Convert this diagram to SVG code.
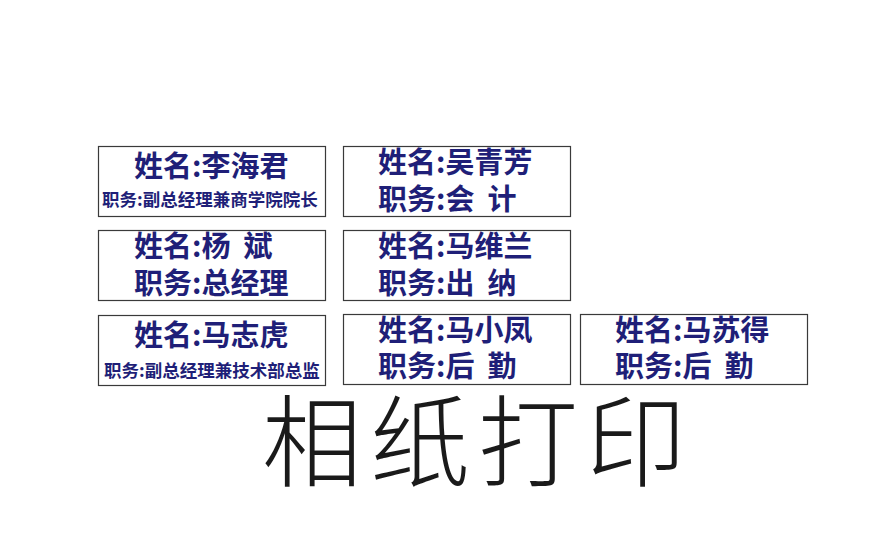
<svg xmlns="http://www.w3.org/2000/svg" width="895" height="545" viewBox="0 0 895 545">
<style>
.card{fill:#ffffff;stroke:#3a3a3a;stroke-width:1.2}
.t{font-family:"Noto Sans CJK SC","Noto Sans",sans-serif;font-weight:bold;fill:#1f1f78;white-space:pre}
.big{font-size:29px}
.small{font-size:17.5px}
.title{font-family:"Noto Sans CJK SC",serif;font-weight:300;font-size:100px;fill:#1a1a1a;letter-spacing:8px}
</style>
<rect width="895" height="545" fill="#ffffff"/>
<g id="card-lihaijun">
<rect class="card" x="98.5" y="146.5" width="227" height="70"/>
<text class="t big" x="134" y="177">姓名:李海君</text>
<text class="t small" x="102" y="206">职务:副总经理兼商学院院长</text>
</g>
<g id="card-wuqingfang">
<rect class="card" x="343.5" y="146.5" width="227" height="70"/>
<text class="t big" x="378" y="173">姓名:吴青芳</text>
<text class="t big" x="378" y="210">职务:会  计</text>
</g>
<g id="card-yangbin">
<rect class="card" x="98.5" y="230.5" width="227" height="70"/>
<text class="t big" x="134" y="257">姓名:杨  斌</text>
<text class="t big" x="134" y="294">职务:总经理</text>
</g>
<g id="card-maweilan">
<rect class="card" x="343.5" y="230.5" width="227" height="70"/>
<text class="t big" x="378" y="257">姓名:马维兰</text>
<text class="t big" x="378" y="294">职务:出  纳</text>
</g>
<g id="card-mazhihu">
<rect class="card" x="98.5" y="315.5" width="227" height="70"/>
<text class="t big" x="134" y="346">姓名:马志虎</text>
<text class="t small" x="104" y="377">职务:副总经理兼技术部总监</text>
</g>
<g id="card-maxiaofeng">
<rect class="card" x="343.5" y="314.5" width="227" height="70"/>
<text class="t big" x="378" y="341">姓名:马小凤</text>
<text class="t big" x="378" y="377">职务:后  勤</text>
</g>
<g id="card-masude">
<rect class="card" x="580.5" y="314.5" width="227" height="70"/>
<text class="t big" x="615" y="341">姓名:马苏得</text>
<text class="t big" x="615" y="377">职务:后  勤</text>
</g>
<text class="title" x="262" y="479">相纸打印</text>
</svg>
